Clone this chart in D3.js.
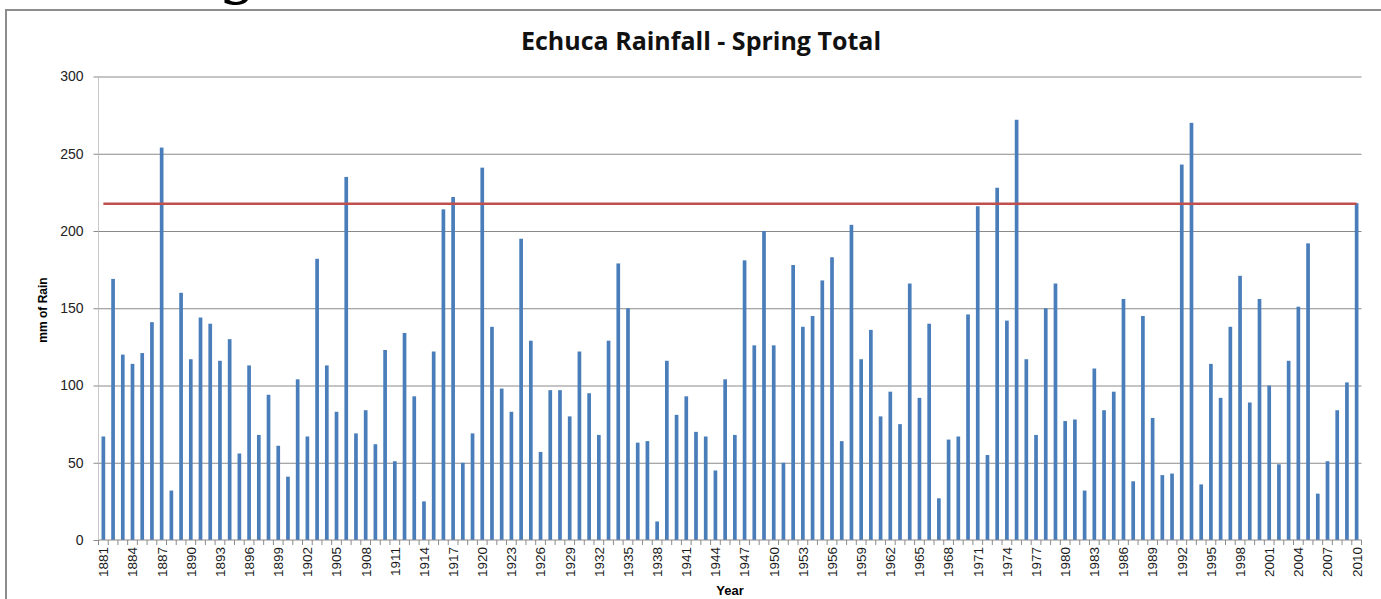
<!DOCTYPE html>
<html>
<head>
<meta charset="utf-8">
<script src="https://cdn.jsdelivr.net/npm/d3@7"></script>
<style>
  body { margin: 0; background: #fff; }
  svg { display: block; }
  .tick text { font-family: "Liberation Sans", Arial, sans-serif; fill: #222; }
</style>
</head>
<body>
<svg width="1381" height="599"></svg>
<script>
// spring rainfall totals, one per year from 1881 to 2010
var firstYear = 1881, lastYear = 2010;
var years = d3.range(firstYear, lastYear + 1);
var rainfall = [
  67, 169, 120, 114, 121, 141, 254, 32, 160, 117,   // 1881-1890
  144, 140, 116, 130, 56, 113, 68, 94, 61, 41,      // 1891-1900
  104, 67, 182, 113, 83, 235, 69, 84, 62, 123,      // 1901-1910
  51, 134, 93, 25, 122, 214, 222, 50, 69, 241,      // 1911-1920
  138, 98, 83, 195, 129, 57, 97, 97, 80, 122,       // 1921-1930
  95, 68, 129, 179, 150, 63, 64, 12, 116, 81,       // 1931-1940
  93, 70, 67, 45, 104, 68, 181, 126, 200, 126,      // 1941-1950
  50, 178, 138, 145, 168, 183, 64, 204, 117, 136,   // 1951-1960
  80, 96, 75, 166, 92, 140, 27, 65, 67, 146,        // 1961-1970
  216, 55, 228, 142, 272, 117, 68, 150, 166, 77,    // 1971-1980
  78, 32, 111, 84, 96, 156, 38, 145, 79, 42,        // 1981-1990
  43, 243, 270, 36, 114, 92, 138, 171, 89, 156,     // 1991-2000
  100, 49, 116, 151, 192, 30, 51, 84, 102, 218      // 2001-2010
];
var yearLabels = d3.range(firstYear, lastYear + 1, 3);
var yTicks = [0, 50, 100, 150, 200, 250, 300];
var referenceLevel = 217.6;

var svg = d3.select("svg");
var plot = { left: 98.5, right: 1361.5, top: 76.5, bottom: 540 };

// outer chart frame (only top and left edges are visible)
svg.append("path")
  .attr("d", "M6,599 V10 H1381")
  .attr("fill", "none")
  .attr("stroke", "#8c8c8c")
  .attr("stroke-width", 2);

// bit of a big heading sticking down from above the frame
svg.append("text")
  .attr("x", 238)
  .attr("y", -9)
  .attr("text-anchor", "middle")
  .attr("font-family", "DejaVu Serif, serif")
  .attr("font-size", 62)
  .text("g");

var x = d3.scaleBand()
  .domain(years)
  .range([plot.left, plot.right])
  .paddingInner(0.62)
  .paddingOuter(0.31);

var y = d3.scaleLinear()
  .domain([0, 300])
  .range([plot.bottom, plot.top]);

// gridlines
svg.append("g")
  .attr("transform", "translate(" + plot.left + ",0)")
  .call(d3.axisLeft(y).tickValues(yTicks.slice(1)).tickSize(-(plot.right - plot.left)).tickFormat(""))
  .call(function (g) { g.select(".domain").remove(); })
  .selectAll("line")
  .attr("stroke", "#8a8a8a");

// y axis
var yAxis = svg.append("g")
  .attr("transform", "translate(" + plot.left + ",0)")
  .call(d3.axisLeft(y).tickValues(yTicks).tickSize(5).tickPadding(10));
yAxis.select(".domain").attr("stroke", "#c8c8c8").attr("d", "M0," + plot.top + "V" + plot.bottom);
yAxis.selectAll(".tick line").attr("stroke", "#8a8a8a");
yAxis.selectAll(".tick text").attr("font-size", 14);

// bars
svg.append("g")
  .selectAll("rect")
  .data(rainfall)
  .enter().append("rect")
  .attr("x", function (d, i) { return x(years[i]); })
  .attr("y", function (d) { return y(d); })
  .attr("width", x.bandwidth())
  .attr("height", function (d) { return y(0) - y(d); })
  .attr("fill", "#4a7ebb");

// x axis line with a tick at every category boundary
var step = x.step();
var xAxis = svg.append("g");
xAxis.append("line")
  .attr("x1", plot.left).attr("x2", plot.right)
  .attr("y1", plot.bottom).attr("y2", plot.bottom)
  .attr("stroke", "#8a8a8a");
xAxis.selectAll("line.boundary")
  .data(years.concat([lastYear + 1]))
  .enter().append("line")
  .attr("class", "boundary")
  .attr("x1", function (d, i) { return plot.left + step * x.paddingOuter() - step * x.paddingInner() / 2 + i * step; })
  .attr("x2", function (d, i) { return plot.left + step * x.paddingOuter() - step * x.paddingInner() / 2 + i * step; })
  .attr("y1", plot.bottom).attr("y2", plot.bottom + 5)
  .attr("stroke", "#8a8a8a");

// year labels, rotated, every third year
svg.append("g")
  .selectAll("text")
  .data(yearLabels)
  .enter().append("text")
  .attr("transform", function (d) {
    return "translate(" + (x(d) + x.bandwidth() / 2) + "," + (plot.bottom + 7) + ") rotate(-90)";
  })
  .attr("dy", "0.36em")
  .attr("text-anchor", "end")
  .attr("font-family", "Liberation Sans, Arial, sans-serif")
  .attr("font-size", 13.5)
  .attr("fill", "#1a1a1a")
  .text(function (d) { return d; });

// red reference line through the category centres
var line = d3.line()
  .x(function (d) { return x(d) + x.bandwidth() / 2; })
  .y(function () { return y(referenceLevel); });
svg.append("path")
  .datum([firstYear, lastYear])
  .attr("d", line)
  .attr("fill", "none")
  .attr("stroke", "#c0504d")
  .attr("stroke-width", 2.6);

// titles
svg.append("text")
  .attr("x", 701)
  .attr("y", 50)
  .attr("text-anchor", "middle")
  .attr("font-family", "Open Sans, sans-serif")
  .attr("font-weight", "bold")
  .attr("font-size", 25)
  .attr("fill", "#111")
  .text("Echuca Rainfall - Spring Total");

svg.append("text")
  .attr("transform", "translate(47,310) rotate(-90)")
  .attr("text-anchor", "middle")
  .attr("font-family", "Liberation Sans, Arial, sans-serif")
  .attr("font-weight", "bold")
  .attr("font-size", 12)
  .text("mm of Rain");

svg.append("text")
  .attr("x", 730)
  .attr("y", 595)
  .attr("text-anchor", "middle")
  .attr("font-family", "Liberation Sans, Arial, sans-serif")
  .attr("font-weight", "bold")
  .attr("font-size", 13)
  .text("Year");
</script>
</body>
</html>
